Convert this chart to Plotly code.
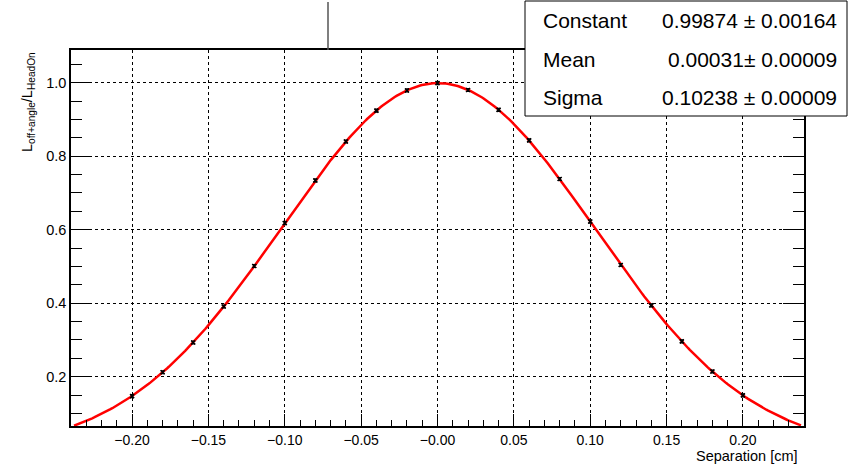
import plotly.graph_objects as go
import numpy as np

# Data points
sep_cm = [-0.20, -0.18, -0.16, -0.14, -0.12, -0.10, -0.08, -0.06, -0.04, -0.02,
          0.00, 0.02, 0.04, 0.06, 0.08, 0.10, 0.12, 0.14, 0.16, 0.18, 0.20]
lumi_ratio = [0.147, 0.212, 0.293, 0.391, 0.501, 0.618, 0.734, 0.840, 0.924, 0.979,
              0.999, 0.980, 0.926, 0.843, 0.738, 0.622, 0.504, 0.394, 0.296, 0.214, 0.149]
lumi_err = [0.004] * len(sep_cm)

# Gaussian fit parameters shown in the stats box
fit_constant = 0.99874
fit_mean = 0.00031
fit_sigma = 0.10238
stat_names = ["Constant", "Mean", "Sigma"]
stat_values = ["0.99874 \u00b1 0.00164", "0.00031\u00b1 0.00009", "0.10238 \u00b1 0.00009"]

x_tickvals = [-0.20, -0.15, -0.10, -0.05, 0.00, 0.05, 0.10, 0.15, 0.20]
x_ticktext = ["\u22120.20", "\u22120.15", "\u22120.10", "\u22120.05", "\u22120.00",
              "0.05", "0.10", "0.15", "0.20"]
y_tickvals = [0.2, 0.4, 0.6, 0.8, 1.0]
y_ticktext = ["0.2", "0.4", "0.6", "0.8", "1.0"]

X_RANGE = [-0.24, 0.24]
Y_RANGE = [0.0657, 1.089]

xf = np.linspace(X_RANGE[0] + 0.002, X_RANGE[1] - 0.002, 400)
yf = fit_constant * np.exp(-0.5 * ((xf - fit_mean) / fit_sigma) ** 2)

FONT = "Liberation Sans, Arial, sans-serif"

fig = go.Figure()
fig.add_trace(go.Scatter(x=xf, y=yf, mode="lines",
                         line=dict(color="#ff0000", width=2.5), hoverinfo="skip"))
fig.add_trace(go.Scatter(x=sep_cm, y=lumi_ratio, mode="markers",
                         marker=dict(symbol="x-thin", size=4, color="black",
                                     line=dict(color="black", width=1.5)),
                         error_y=dict(type="data", array=lumi_err, visible=True,
                                      color="black", thickness=1.2, width=2)))

fig.update_layout(
    width=848, height=466,
    margin=dict(l=71, r=44, t=50, b=40),
    paper_bgcolor="white", plot_bgcolor="white",
    showlegend=False,
    font=dict(family=FONT, color="black", size=14),
)
fig.update_xaxes(
    range=X_RANGE, showline=True, linecolor="black", linewidth=1.5, mirror=True,
    tickvals=x_tickvals, ticktext=x_ticktext, ticks="inside", ticklen=12,
    tickcolor="black", tickwidth=1.2,
    tickfont=dict(family=FONT, size=14, color="black"),
    showgrid=True, gridcolor="black", griddash="dot", gridwidth=1,
    zeroline=False,
    minor=dict(dtick=0.01, tick0=0, ticks="inside", ticklen=6,
               tickcolor="black", tickwidth=1.2, showgrid=False),
)
fig.update_yaxes(
    range=Y_RANGE, showline=True, linecolor="black", linewidth=1.5, mirror="ticks",
    tickvals=y_tickvals, ticktext=y_ticktext, ticks="inside", ticklen=21,
    tickcolor="black", tickwidth=1.2,
    tickfont=dict(family=FONT, size=14.5, color="black"),
    showgrid=True, gridcolor="black", griddash="dot", gridwidth=1,
    zeroline=False,
    minor=dict(dtick=0.05, tick0=0, ticks="inside", ticklen=11,
               tickcolor="black", tickwidth=1.2, showgrid=False),
)

# Axis titles
fig.add_annotation(text="Separation [cm]", xref="paper", yref="paper",
                   x=1.0 - 4 / 733, y=-30 / 376, xanchor="right", yanchor="middle",
                   showarrow=False, font=dict(family=FONT, size=14.5, color="black"))
fig.add_annotation(text="L<sub>off+angle</sub>/L<sub>HeadOn</sub>", xref="paper", yref="paper",
                   x=(28 - 71) / 733, y=1.0, xanchor="center", yanchor="top",
                   textangle=-90, showarrow=False,
                   font=dict(family=FONT, size=14.5, color="black"))

# Vertical line above the frame
fig.add_shape(type="line", xref="paper", yref="paper",
              x0=(328 - 71) / 733, x1=(328 - 71) / 733, y0=1.0, y1=1 + 48 / 376,
              line=dict(color="#555555", width=1.5))

# Stats box
bx0 = (525 - 71) / 733
bx1 = (847 - 71) / 733
by1 = 1 + (50 - 1) / 376
by0 = 1 - (116 - 50) / 376
fig.add_shape(type="rect", xref="paper", yref="paper", x0=bx0, x1=bx1, y0=by0, y1=by1,
              fillcolor="white", line=dict(color="black", width=1), layer="above")
row_y = [21, 60, 98]
for name, val, py in zip(stat_names, stat_values, row_y):
    yy = 1 + (50 - py) / 376
    fig.add_annotation(text=name, xref="paper", yref="paper",
                       x=(541 - 71) / 733, y=yy, xanchor="left", yanchor="middle",
                       showarrow=False, font=dict(family=FONT, size=21, color="black"))
    fig.add_annotation(text=val, xref="paper", yref="paper",
                       x=(839 - 71) / 733, y=yy, xanchor="right", yanchor="middle",
                       showarrow=False, font=dict(family=FONT, size=21, color="black"))

fig.write_html("out.html")
